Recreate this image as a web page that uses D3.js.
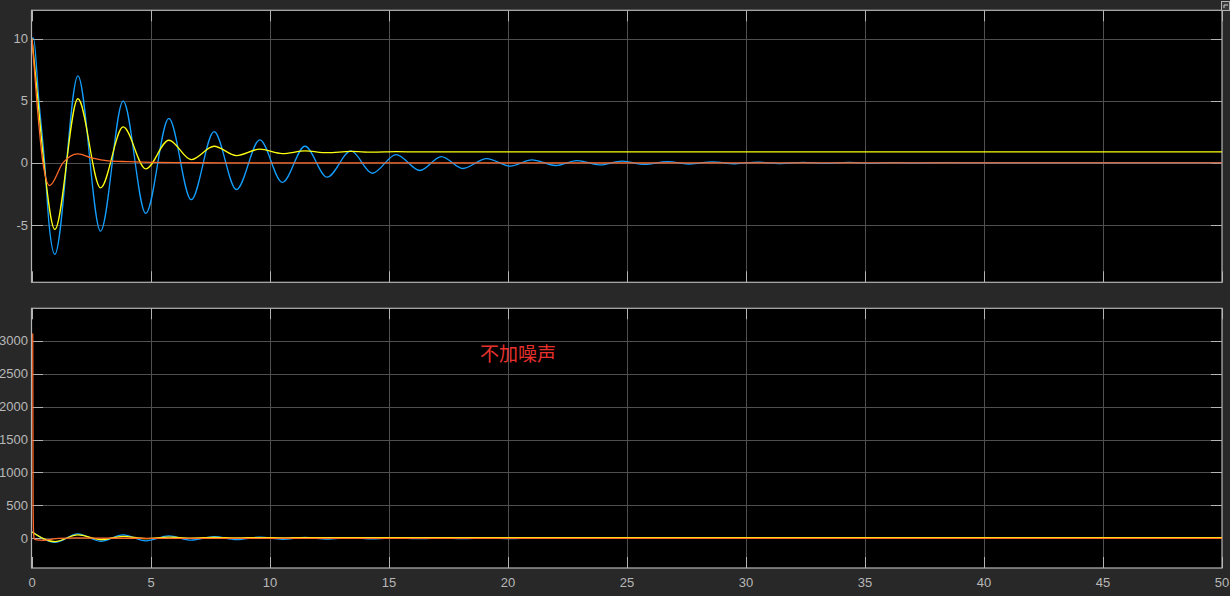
<!DOCTYPE html>
<html>
<head>
<meta charset="utf-8">
<script src="https://cdn.jsdelivr.net/npm/d3@7"></script>
<style>
  html, body { margin: 0; padding: 0; background: #282828; }
  svg { display: block; }
</style>
</head>
<body>
<svg id="chart" width="1230" height="596"></svg>
<script>
// ---------------- data ----------------
const xTicks = [0, 5, 10, 15, 20, 25, 30, 35, 40, 45, 50];
const topYTicks = [-5, 0, 5, 10];
const bottomYTicks = [0, 500, 1000, 1500, 2000, 2500, 3000];
const annotation = "不加噪声";

// top panel, [time, value]
const topBlue = [
  [0, 10], [0.06, 10.05], [0.29, 5], [0.53, 0], [0.72, -5], [0.96, -7.35],
  [1.93, 7.0], [2.88, -5.48], [3.83, 4.97], [4.78, -4.06], [5.75, 3.58],
  [6.69, -2.96], [7.65, 2.52], [8.59, -2.14], [9.57, 1.85], [10.52, -1.57],
  [11.47, 1.34], [12.4, -1.15], [13.4, 0.96], [14.3, -0.83], [15.3, 0.67],
  [16.3, -0.61], [17.2, 0.51], [18.1, -0.45], [19.1, 0.35], [20.1, -0.26],
  [21.0, 0.24], [22.0, -0.21], [22.9, 0.19], [23.85, -0.16], [24.8, 0.14],
  [25.75, -0.12], [26.7, 0.1], [27.65, -0.09], [28.6, 0.08], [29.55, -0.07],
  [30.5, 0.06], [31.45, -0.05], [32.4, 0.05], [33.35, -0.04], [34.3, 0.04],
  [35.25, -0.03], [36.2, 0.03], [37.15, -0.02], [38.1, 0.02], [40, 0], [50, 0]
];
const topYellow = [
  [0, 10], [0.25, 5], [0.5, 0], [0.96, -5.35], [1.93, 5.16], [2.88, -2.0],
  [3.83, 2.89], [4.78, -0.48], [5.75, 1.82], [6.69, 0.27], [7.65, 1.34],
  [8.59, 0.59], [9.57, 1.1], [10.52, 0.75], [11.47, 0.96], [12.4, 0.82],
  [13.4, 0.92], [14.3, 0.86], [15.3, 0.9], [16.3, 0.88], [50, 0.88]
];
const topOrange = [
  [0, 10], [0.2, 5], [0.46, 0], [0.74, -1.82], [1.3, 0], [1.93, 0.72],
  [2.5, 0.4], [3.2, 0.16], [4.0, 0.1], [5.0, 0.05], [6.5, 0.02], [8, 0], [50, 0]
];

// bottom panel, [time, value]
const bottomBlue = [
  [0, 100], [0.96, -62], [1.93, 68], [2.88, -45], [3.83, 52], [4.78, -38],
  [5.75, 36], [6.69, -28], [7.65, 25], [8.59, -20], [9.57, 18], [10.52, -15],
  [11.47, 13], [12.4, -11], [13.4, 10], [14.3, -8], [15.3, 7], [16.3, -6],
  [17.2, 5], [18.1, -4], [19.1, 3.5], [20.1, -3], [21.0, 2.5], [22.0, -2],
  [22.9, 2], [24.8, 1.5], [26.7, 1], [30, 0], [50, 0]
];
const bottomYellow = [
  [0, 95], [0.96, -50], [1.93, 52], [2.88, -20], [3.83, 29], [4.78, -5],
  [5.75, 18], [6.69, 3], [7.65, 13], [8.59, 6], [9.57, 11], [10.52, 7.5],
  [11.47, 9.6], [12.4, 8.2], [13.4, 9], [50, 8.8]
];
const bottomOrange = [
  [0.03, 3110], [0.045, 500], [0.07, 60], [0.1, -10], [0.2, -25],
  [0.5, -30], [0.8, -15], [1.1, 0], [1.9, 6], [3, 2], [5, 0], [50, 0]
];

// ---------------- drawing ----------------
const W = 1230, H = 596;
const svg = d3.select("#chart");
const FONT = "'Liberation Sans', Arial, sans-serif";
const C = {
  bg: "#282828", axesBg: "#000000", frame: "#b4b4b4", grid: "#4f4f4f",
  tick: "#b4b4b4", label: "#b8b8b8",
  yellow: "#ffff11", blue: "#139fff", orange: "#ff6929", text: "#e8302c"
};

svg.append("rect").attr("width", W).attr("height", H).attr("fill", C.bg);

const x0 = 32, x1 = 1222;
const panels = [
  { top: 10.3, bottom: 282.3, domain: [-9.6, 12.27], yTicks: topYTicks,
    series: [[topBlue, C.blue], [topYellow, C.yellow], [topOrange, C.orange]], xLabels: false },
  { top: 308.3, bottom: 568, domain: [-451, 3492], yTicks: bottomYTicks,
    series: [[bottomBlue, C.blue], [bottomYellow, C.yellow], [bottomOrange, C.orange]], xLabels: true }
];

const x = d3.scaleLinear().domain([0, 50]).range([x0, x1]);

panels.forEach((p, i) => {
  const y = d3.scaleLinear().domain(p.domain).range([p.bottom, p.top]);
  const g = svg.append("g");
  const clipId = "clip" + i;
  svg.append("clipPath").attr("id", clipId)
    .append("rect").attr("x", x0).attr("y", p.top).attr("width", x1 - x0).attr("height", p.bottom - p.top);

  g.append("rect").attr("x", x0).attr("y", p.top).attr("width", x1 - x0)
    .attr("height", p.bottom - p.top).attr("fill", C.axesBg);

  // grid
  g.append("g").selectAll("line").data(xTicks.filter(t => t > 0 && t < 50)).join("line")
    .attr("x1", d => Math.round(x(d)) + 0.5).attr("x2", d => Math.round(x(d)) + 0.5)
    .attr("y1", p.top).attr("y2", p.bottom).attr("stroke", C.grid).attr("stroke-width", 1);
  g.append("g").selectAll("line").data(p.yTicks).join("line")
    .attr("x1", x0).attr("x2", x1)
    .attr("y1", d => Math.round(y(d)) + 0.5).attr("y2", d => Math.round(y(d)) + 0.5)
    .attr("stroke", C.grid).attr("stroke-width", 1);

  // inward ticks on all four sides
  const tl = 11;
  const tg = g.append("g").attr("stroke", C.tick).attr("stroke-width", 1);
  xTicks.forEach(t => {
    const px = Math.round(x(t)) + 0.5;
    tg.append("line").attr("x1", px).attr("x2", px).attr("y1", p.bottom).attr("y2", p.bottom - tl);
    tg.append("line").attr("x1", px).attr("x2", px).attr("y1", p.top).attr("y2", p.top + tl);
  });
  p.yTicks.forEach(t => {
    const py = Math.round(y(t)) + 0.5;
    tg.append("line").attr("x1", x0).attr("x2", x0 + tl).attr("y1", py).attr("y2", py);
    tg.append("line").attr("x1", x1).attr("x2", x1 - tl).attr("y1", py).attr("y2", py);
  });

  // frame
  g.append("rect").attr("x", x0 - 0.5).attr("y", p.top).attr("width", x1 - x0 + 0.5)
    .attr("height", p.bottom - p.top).attr("fill", "none").attr("stroke", C.frame).attr("stroke-width", 1.2);

  // series
  const line = d3.line().x(d => x(d[0])).y(d => y(d[1])).curve(d3.curveMonotoneX);
  const sg = g.append("g").attr("clip-path", `url(#${clipId})`);
  p.series.forEach(([data, color]) => {
    sg.append("path").datum(data).attr("d", line).attr("fill", "none")
      .attr("stroke", color).attr("stroke-width", 1.3).attr("stroke-linejoin", "round");
  });

  // y tick labels
  g.append("g").selectAll("text").data(p.yTicks).join("text")
    .attr("x", 28).attr("y", d => y(d)).attr("dy", "0.35em")
    .attr("text-anchor", "end").attr("fill", C.label)
    .attr("font-family", FONT).attr("font-size", 13).text(d => d);

  if (p.xLabels) {
    g.append("g").selectAll("text").data(xTicks).join("text")
      .attr("x", d => x(d)).attr("y", p.bottom + 14).attr("dy", "0.35em")
      .attr("text-anchor", "middle").attr("fill", C.label)
      .attr("font-family", FONT).attr("font-size", 13).text(d => d);
  }
});

// annotation in bottom panel
svg.append("text").attr("x", 480).attr("y", 361)
  .attr("fill", C.text).attr("font-family", "'Noto Sans CJK SC', sans-serif")
  .attr("font-size", 19).text(annotation);

// small corner icon
svg.append("rect").attr("x", 1221.5).attr("y", 1.5).attr("width", 8).attr("height", 9)
  .attr("fill", "#3a3a3a").attr("stroke", "#b4b4b4").attr("stroke-width", 1);
svg.append("path").attr("d", "M1224 8 L1224 5 L1228 5").attr("fill", "none")
  .attr("stroke", "#d0d0d0").attr("stroke-width", 1);
</script>
</body>
</html>
